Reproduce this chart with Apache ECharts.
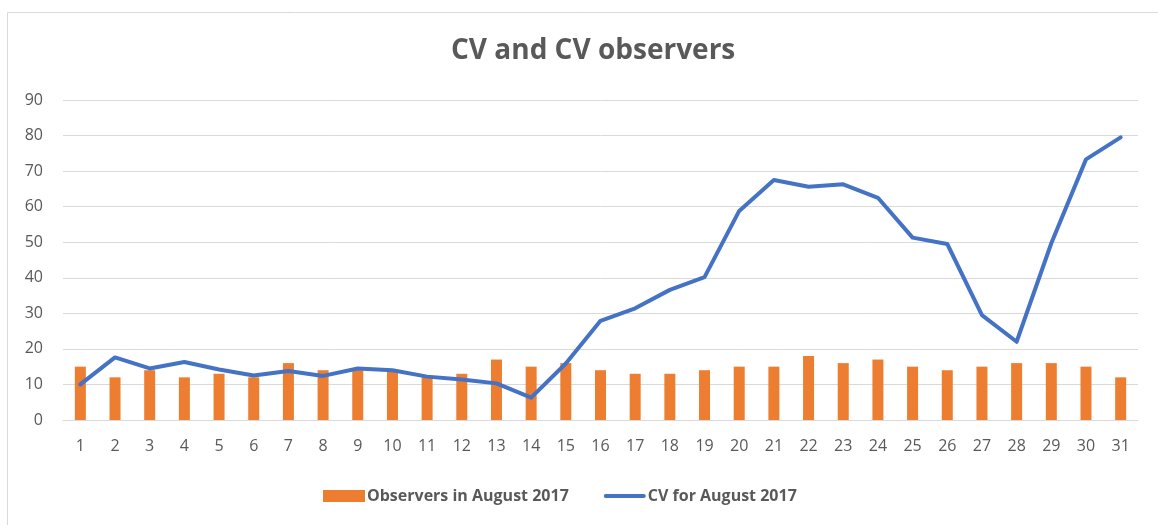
<!DOCTYPE html>
<html>
<head>
<meta charset="utf-8">
<title>CV and CV observers</title>
<script src="https://cdn.jsdelivr.net/npm/echarts@6/dist/echarts.min.js"></script>
<style>
    html, body { margin: 0; padding: 0; background: #fff; }
    #main { width: 1158px; height: 525px; }
</style>
</head>
<body>
<div id="main"></div>
<script>
// days of August 2017
var days = [];
for (var d = 1; d <= 31; d++) { days.push(String(d)); }

var observers = [15, 12, 14, 12, 13, 12, 16, 14, 14, 14, 12, 13, 17, 15, 16, 14,
                 13, 13, 14, 15, 15, 18, 16, 17, 15, 14, 15, 16, 16, 15, 12];

var cv = [10, 17.6, 14.5, 16.3, 14.2, 12.5, 13.8, 12.4, 14.5, 14, 12.2, 11.4, 10.3, 6.3, 15.9, 27.9,
          31.4, 36.6, 40.2, 58.8, 67.5, 65.6, 66.3, 62.5, 51.3, 49.5, 29.5, 22, 49.7, 73.3, 79.5];

var yTicks = { min: 0, max: 90, interval: 10 };

var textColor = '#595959';
var gridColor = '#d9d9d9';

var myChart = echarts.init(document.getElementById('main'));

var option = {
    animation: false,
    backgroundColor: '#fff',
    title: {
        text: 'CV and CV observers',
        left: 446,
        top: 32,
        textStyle: {
            fontFamily: 'Open Sans',
            fontWeight: 'bold',
            fontSize: 28,
            color: textColor
        }
    },
    // outer frame of the chart area
    graphic: [{
        type: 'rect',
        left: 5,
        top: 10,
        shape: { width: 1200, height: 600 },
        style: { fill: 'none', stroke: gridColor, lineWidth: 1 },
        silent: true
    }],
    legend: {
        bottom: 16,
        left: 318,
        itemWidth: 42,
        itemHeight: 12,
        itemGap: 35,
        symbolKeepAspect: true,
        textStyle: {
            fontFamily: 'Open Sans',
            fontWeight: 'bold',
            fontSize: 16,
            color: textColor,
            padding: [0, 0, 0, -3]
        },
        data: [
            { name: 'Observers in August 2017', icon: 'rect' },
            { name: 'CV for August 2017', icon: 'path://M2,0H40A2,2,0,0,1,40,4H2A2,2,0,0,1,2,0Z' }
        ]
    },
    grid: {
        left: 63,
        right: 20,
        top: 100,
        bottom: 105
    },
    xAxis: {
        type: 'category',
        data: days,
        boundaryGap: true,
        axisTick: { show: false },
        axisLine: { lineStyle: { color: gridColor, width: 1 } },
        axisLabel: {
            fontFamily: 'Open Sans',
            fontSize: 16,
            color: textColor,
            margin: 18
        }
    },
    yAxis: {
        type: 'value',
        min: yTicks.min,
        max: yTicks.max,
        interval: yTicks.interval,
        axisLine: { show: false },
        axisTick: { show: false },
        splitLine: { lineStyle: { color: gridColor, width: 1 } },
        axisLabel: {
            fontFamily: 'Open Sans',
            fontSize: 16,
            color: textColor,
            margin: 20
        }
    },
    series: [
        {
            name: 'Observers in August 2017',
            type: 'bar',
            data: observers,
            barWidth: 11,
            itemStyle: { color: '#ED7D31' },
            z: 2
        },
        {
            name: 'CV for August 2017',
            type: 'line',
            data: cv,
            symbol: 'none',
            lineStyle: { color: '#4472C4', width: 4, cap: 'round', join: 'round' },
            itemStyle: { color: '#4472C4' },
            z: 3
        }
    ]
};

myChart.setOption(option);

window.addEventListener('resize', function () {
    myChart.resize();
});
</script>
</body>
</html>
